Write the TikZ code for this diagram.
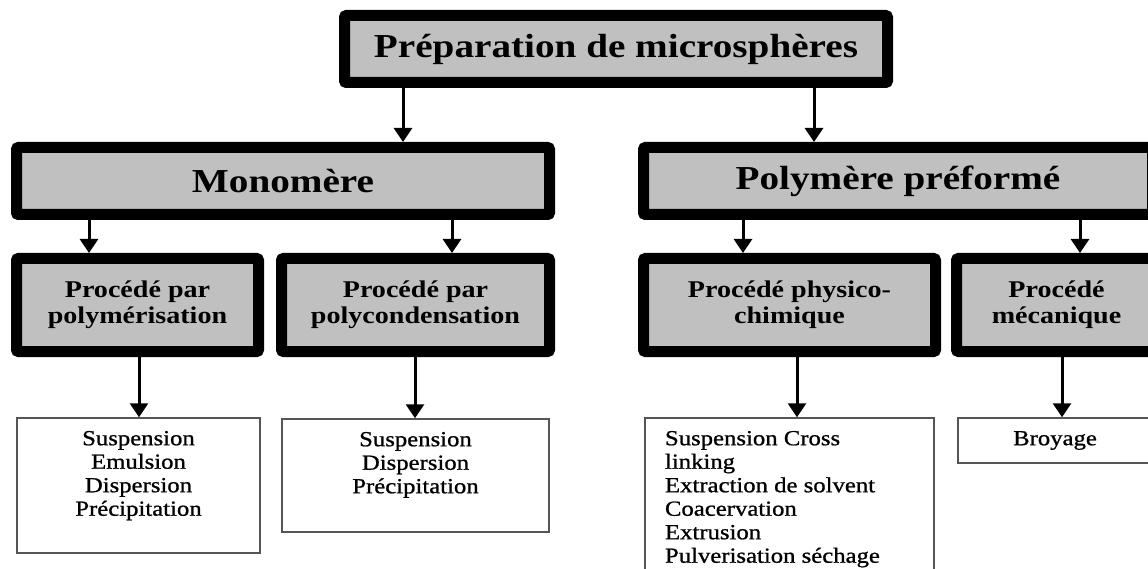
\documentclass[tikz,border=0pt]{standalone}
\usepackage{fontspec}
\setmainfont{Liberation Serif}[FakeStretch=1.17]
\newfontfamily\listfont{Liberation Serif}[FakeStretch=1.15, FakeBold=0.9]
\usetikzlibrary{arrows.meta}
\definecolor{boxgray}{RGB}{192,192,192}
\definecolor{thinline}{RGB}{85,85,85}
\begin{document}
\begin{tikzpicture}[x=1pt,y=-1pt,
  bigbox/.style={draw=black, line width=11pt, fill=boxgray, rounded corners=2pt, inner sep=0pt,
    font=\fontsize{33.5}{38}\selectfont\bfseries},
  midbox/.style={draw=black, line width=11pt, fill=boxgray, rounded corners=2pt, inner sep=0pt,
    align=center, minimum height=93pt, font=\fontsize{24}{26}\selectfont\bfseries},
  listbox/.style={draw=thinline, line width=1.5pt, inner sep=0pt,
    font=\listfont\fontsize{21.5}{23.5}\selectfont},
  arr/.style={line width=3pt, -{Triangle[width=18pt,length=14pt]}}]
\useasboundingbox (0,0) rectangle (1148,569);
% level 0
\node[bigbox, minimum width=543pt, minimum height=67pt] (top) at (616,49) {Préparation de microsphères};
% level 1
\node[bigbox, minimum width=533pt, minimum height=67pt] (mono) at (283,181) {Monomère};
\node[bigbox, minimum width=509pt, minimum height=67pt] (poly) at (898,181) {Polymère préformé};
% level 2
\node[midbox, minimum width=242pt] (s1) at (137.5,305) {Procédé par\\polymérisation};
\node[midbox, minimum width=268pt] (s2) at (415.5,305) {Procédé par\\polycondensation};
\node[midbox, minimum width=292pt] (s3) at (789.5,305) {Procédé physico-\\chimique};
\node[midbox, minimum width=200pt] (s4) at (1056.5,305) {Procédé\\mécanique};
% level 3
\node[listbox] (b1) at (138.5,485.5) {\parbox[c][135pt][t]{243pt}{\vspace*{13pt}\centering
  Suspension\\Emulsion\\Dispersion\\Précipitation\par}};
\node[listbox] (b2) at (415.5,475.5) {\parbox[c][113pt][t]{267pt}{\vspace*{13pt}\centering
  Suspension\\Dispersion\\Précipitation\par}};
\node[listbox] (b3) at (789.5,499) {\parbox[c][162pt][t]{289pt}{\vspace*{13pt}\raggedright\leftskip=20pt
  Suspension Cross\\linking\\Extraction de solvent\\Coacervation\\Extrusion\\Pulverisation séchage\par}};
\node[listbox, minimum width=194pt, minimum height=45pt] (b4) at (1055,440.5) {Broyage};
% arrow columns
\coordinate (c1) at (403,0);
\coordinate (c2) at (814,0);
\coordinate (c3) at (89,0);
\coordinate (c4) at (452,0);
\coordinate (c5) at (743,0);
\coordinate (c6) at (1080,0);
\coordinate (c7) at (139,0);
\coordinate (c8) at (415,0);
\coordinate (c9) at (797,0);
\coordinate (c10) at (1062,0);
\draw[arr] (top.south -| c1) -- (mono.north -| c1);
\draw[arr] (top.south -| c2) -- (poly.north -| c2);
\draw[arr] (mono.south -| c3) -- (s1.north -| c3);
\draw[arr] (mono.south -| c4) -- (s2.north -| c4);
\draw[arr] (poly.south -| c5) -- (s3.north -| c5);
\draw[arr] (poly.south -| c6) -- (s4.north -| c6);
\draw[arr] (s1.south -| c7) -- (b1.north -| c7);
\draw[arr] (s2.south -| c8) -- (b2.north -| c8);
\draw[arr] (s3.south -| c9) -- (b3.north -| c9);
\draw[arr] (s4.south -| c10) -- (b4.north -| c10);
\end{tikzpicture}
\end{document}
